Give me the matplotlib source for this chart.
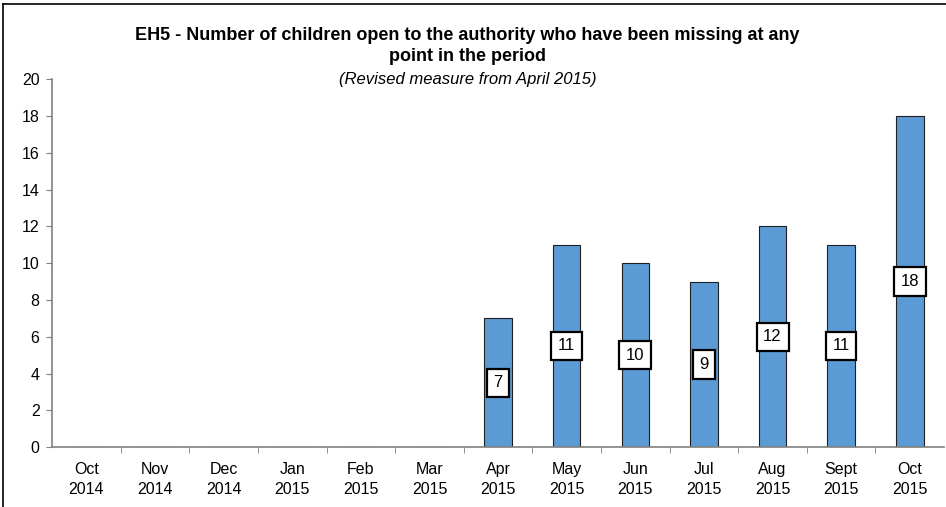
import matplotlib.pyplot as plt
from matplotlib.lines import Line2D
import numpy as np

plt.rcParams['font.family'] = ['Liberation Sans Narrow', 'Liberation Sans', 'DejaVu Sans']

months = ['Oct\n2014', 'Nov\n2014', 'Dec\n2014', 'Jan\n2015', 'Feb\n2015', 'Mar\n2015',
          'Apr\n2015', 'May\n2015', 'Jun\n2015', 'Jul\n2015', 'Aug\n2015', 'Sept\n2015', 'Oct\n2015']
missing = [0, 0, 0, 0, 0, 0, 7, 11, 10, 9, 12, 11, 18]
y_ticks = list(range(0, 21, 2))

fig = plt.figure(figsize=(9.46, 5.07), dpi=100)
ax = fig.add_axes([0.055, 0.118, 0.943, 0.726])

x = np.arange(len(months))
ax.bar(x, missing, width=0.4, color='#5b9bd5', edgecolor='#1f1f1f', linewidth=0.8, zorder=2)

# value labels sit in white boxes at half bar height
for xi, v in zip(x, missing):
    if v > 0:
        ax.text(xi, v / 2, str(v), ha='center', va='center', fontsize=12,
                bbox=dict(boxstyle='square,pad=0.4', fc='white', ec='black', lw=1.6),
                zorder=3)

ax.set_xlim(-0.5, len(months) - 0.5)
ax.set_ylim(0, 20)
ax.set_yticks(y_ticks)
ax.tick_params(axis='y', labelsize=11.5, length=4, color='#808080', pad=5)

# category labels centred, tick marks between categories
ax.set_xticks(x)
ax.set_xticklabels(months, fontsize=11.5, linespacing=1.35)
ax.tick_params(axis='x', length=0, pad=11)
ax.set_xticks(np.arange(0.5, len(months) - 0.5, 1), minor=True)
ax.tick_params(axis='x', which='minor', length=4, color='#808080')

for side in ['top', 'right']:
    ax.spines[side].set_visible(False)
for side in ['left', 'bottom']:
    ax.spines[side].set_color('#808080')
    ax.spines[side].set_linewidth(1.2)

fig.text(0.494, 0.909, 'EH5 - Number of children open to the authority who have been missing at any\npoint in the period',
         ha='center', va='center', fontsize=13, fontweight='bold', linespacing=1.35)
fig.text(0.494, 0.844, '(Revised measure from April 2015)', ha='center', va='center',
         fontsize=12, style='italic')

# chart frame
fig.add_artist(Line2D([0.003, 0.003], [0, 0.992], transform=fig.transFigure, color='black', lw=1.2))
fig.add_artist(Line2D([0.003, 1], [0.992, 0.992], transform=fig.transFigure, color='black', lw=1.2))

fig.savefig('out.png', dpi=100)
